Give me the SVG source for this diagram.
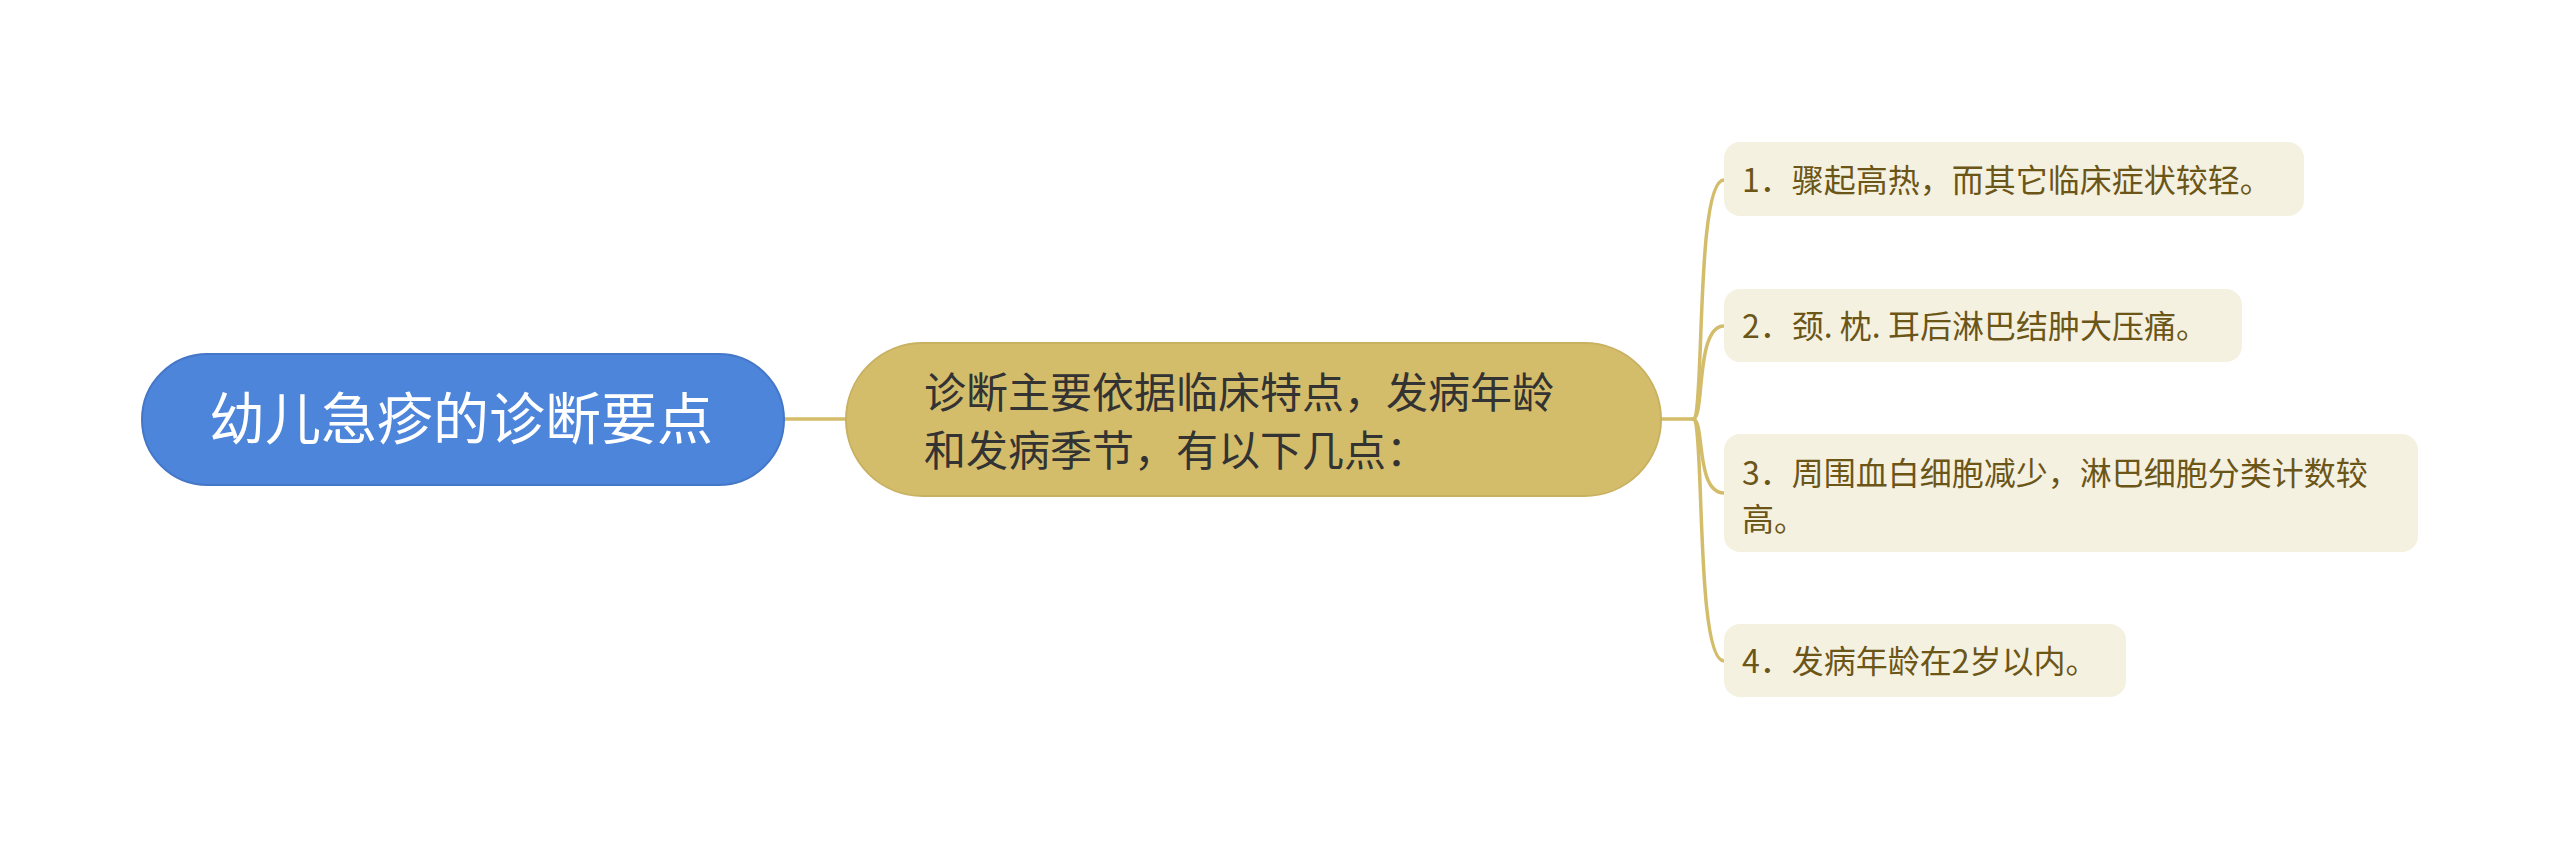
<svg xmlns="http://www.w3.org/2000/svg" width="2560" height="841" viewBox="0 0 2560 841">
<style>
.t{font-family:"Noto Sans CJK SC","Noto Sans",sans-serif;}
.root rect{fill:#4D85DB;stroke:#4577C8;stroke-width:2;}
.root text{fill:#FFFFFF;font-size:56px;}
.main rect{fill:#D3BD6B;stroke:#C9B162;stroke-width:2;}
.main text{fill:#333333;font-size:42px;}
.leaf rect{fill:#F5F1E1;}
.leaf text{fill:#6B5618;font-size:32px;}
.conn path{fill:none;stroke:#D3BD6B;stroke-width:3.5;stroke-linecap:round;}
</style>
<rect width="2560" height="841" fill="#FFFFFF"/>
<g class="conn" id="connectors">
<path d="M784,419 L846,419"/>
<path d="M1661,419 L1693,419"/>
<path d="M1693,419 C1705,419 1695,180 1724,180"/>
<path d="M1693,419 C1705,419 1695,326 1724,326"/>
<path d="M1693,419 C1705,419 1695,493 1724,493"/>
<path d="M1693,419 C1705,419 1695,661 1724,661"/>
</g>
<g class="root t" id="node-root">
<rect x="142" y="354" width="642" height="131" rx="65.5"/>
<text x="209" y="439">幼儿急疹的诊断要点</text>
</g>
<g class="main t" id="node-main">
<rect x="846" y="343" width="815" height="153" rx="76.5"/>
<text x="924" y="408">诊断主要依据临床特点，发病年龄</text>
<text x="924" y="466">和发病季节，有以下几点：</text>
</g>
<g class="leaf t" id="node-1">
<rect x="1724" y="142" width="580" height="74" rx="16"/>
<text x="1742" y="192">1．骤起高热，而其它临床症状较轻。</text>
</g>
<g class="leaf t" id="node-2">
<rect x="1724" y="289" width="518" height="73" rx="16"/>
<text x="1742" y="338">2．颈. 枕. 耳后淋巴结肿大压痛。</text>
</g>
<g class="leaf t" id="node-3">
<rect x="1724" y="434" width="694" height="118" rx="16"/>
<text x="1742" y="485">3．周围血白细胞减少，淋巴细胞分类计数较</text>
<text x="1742" y="531">高。</text>
</g>
<g class="leaf t" id="node-4">
<rect x="1724" y="624" width="402" height="73" rx="16"/>
<text x="1742" y="673">4．发病年龄在2岁以内。</text>
</g>
</svg>
